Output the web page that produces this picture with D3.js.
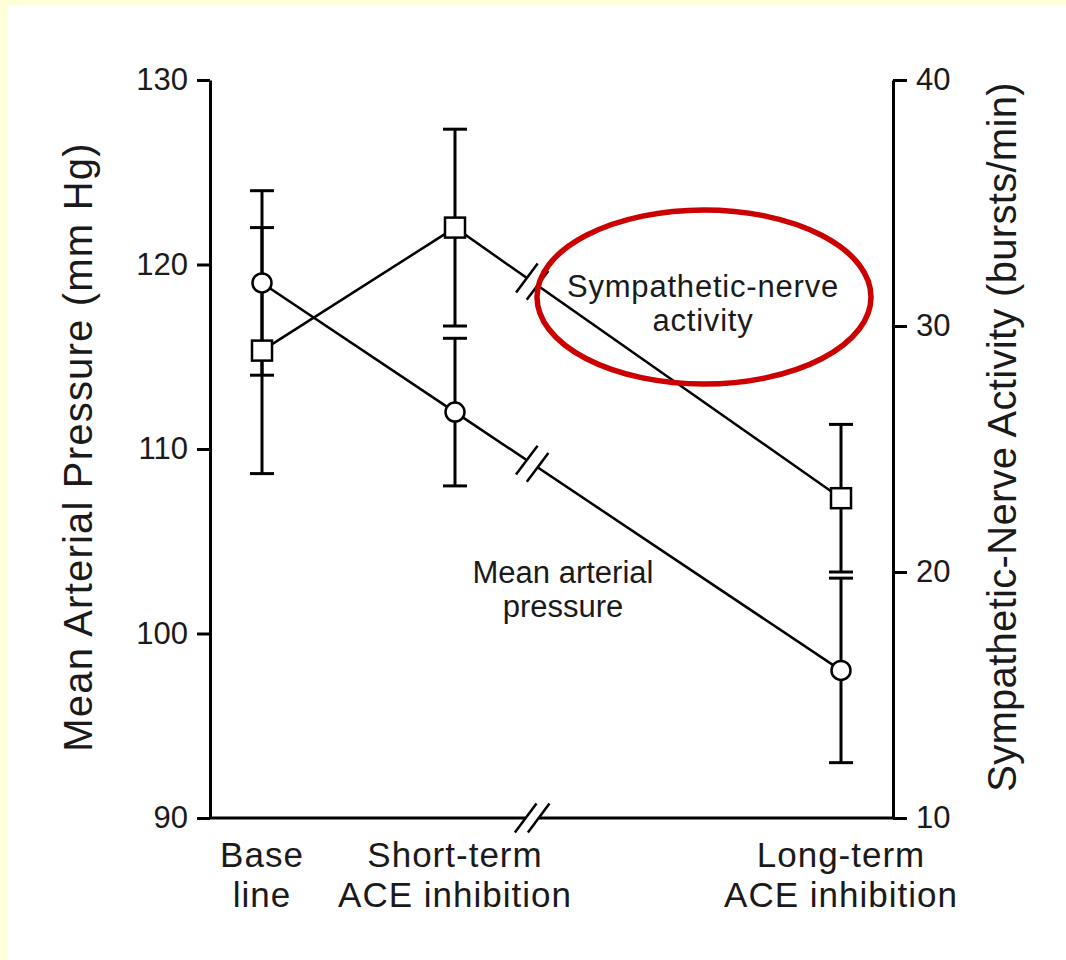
<!DOCTYPE html>
<html>
<head>
<meta charset="utf-8">
<script src="https://cdn.jsdelivr.net/npm/d3@7.9.0/dist/d3.min.js"></script>
<style>
  body { margin: 0; }
  svg text { font-family: "Liberation Sans", Arial, sans-serif; fill: #1a1a1a; }
</style>
</head>
<body>
<svg id="chart" width="1066" height="960"></svg>
<script>
// Data
const categories = ["base", "short", "long"];
const categoryLabels = [["Base", "line"], ["Short-term", "ACE inhibition"], ["Long-term", "ACE inhibition"]];
const mapMean = [119, 112, 98];   // mean arterial pressure, mm Hg
const mapErr = [5, 4, 5];
const snaMean = [29, 34, 23];     // sympathetic-nerve activity, bursts/min
const snaErr = [5, 4, 3];
const leftTicks = [90, 100, 110, 120, 130];
const rightTicks = [10, 20, 30, 40];
const leftTitle = "Mean Arterial Pressure (mm Hg)";
const rightTitle = "Sympathetic-Nerve Activity (bursts/min)";
const mapNote = ["Mean arterial", "pressure"];
const snaNote = ["Sympathetic-nerve", "activity"];

const svg = d3.select("#chart");

// background: yellow frame at left/top, white page
svg.append("rect").attr("width", 1066).attr("height", 960).attr("fill", "#ffffd9");
svg.append("rect").attr("x", 8).attr("y", 6).attr("width", 1058).attr("height", 954).attr("fill", "#fff");

// Scales (x has a hidden slot where the time axis is broken)
const x = d3.scalePoint().domain(["base", "short", "gap", "long"]).range([262, 841]);
const yL = d3.scaleLinear().domain([90, 130]).range([818, 80]);
const yR = d3.scaleLinear().domain([10, 40]).range([818, 80]);
const xLeft = 210, xRight = 893;
const breakX = x("short") + 0.4 * x.step();

// Axes
const leftAxis = svg.append("g")
  .attr("transform", `translate(${xLeft},0)`)
  .call(d3.axisLeft(yL).tickValues(leftTicks).tickSize(13).tickSizeOuter(0).tickPadding(9));
const rightAxis = svg.append("g")
  .attr("transform", `translate(${xRight},0)`)
  .call(d3.axisRight(yR).tickValues(rightTicks).tickSize(14).tickSizeOuter(0).tickPadding(9));
[leftAxis, rightAxis].forEach(g => {
  g.select(".domain").attr("stroke", "#000").attr("stroke-width", 3);
  g.selectAll(".tick line").attr("stroke", "#000").attr("stroke-width", 3);
  g.selectAll(".tick text").style("font-size", "31px").attr("fill", "#1a1a1a");
});

// bottom line
svg.append("line")
  .attr("x1", xLeft).attr("x2", xRight).attr("y1", yL(90)).attr("y2", yL(90))
  .attr("stroke", "#000").attr("stroke-width", 3);

// break marks "//"
function breakMark(cx, cy, dx, dy) {
  const len = Math.hypot(dx, dy), ux = dx / len, uy = dy / len;
  const sx = 0.6, sy = -0.8, half = 18, off = 6.5;
  svg.append("line")
    .attr("x1", cx - ux * off).attr("y1", cy - uy * off)
    .attr("x2", cx + ux * off).attr("y2", cy + uy * off)
    .attr("stroke", "#fff").attr("stroke-width", 6);
  [-off, off].forEach(o => {
    const px = cx + ux * o, py = cy + uy * o;
    svg.append("line")
      .attr("x1", px - sx * half).attr("y1", py - sy * half)
      .attr("x2", px + sx * half).attr("y2", py + sy * half)
      .attr("stroke", "#000").attr("stroke-width", 2.5);
  });
}

// Error bars
function errorBars(mean, err, y) {
  categories.forEach((c, i) => {
    const g = svg.append("g").attr("stroke", "#000").attr("stroke-width", 3);
    g.append("line").attr("x1", x(c)).attr("x2", x(c))
      .attr("y1", y(mean[i] + err[i])).attr("y2", y(mean[i] - err[i]));
    [mean[i] + err[i], mean[i] - err[i]].forEach(v => {
      g.append("line").attr("x1", x(c) - 12).attr("x2", x(c) + 12)
        .attr("y1", y(v)).attr("y2", y(v));
    });
  });
}
errorBars(mapMean, mapErr, yL);
errorBars(snaMean, snaErr, yR);

// Lines
function series(mean, y) {
  const pts = categories.map((c, i) => [x(c), y(mean[i])]);
  svg.append("path")
    .attr("d", d3.line()(pts))
    .attr("fill", "none").attr("stroke", "#000").attr("stroke-width", 2.5);
  // break on the segment short -> long
  const [a, b] = [pts[1], pts[2]];
  const t = (breakX - a[0]) / (b[0] - a[0]);
  breakMark(breakX, a[1] + t * (b[1] - a[1]), b[0] - a[0], b[1] - a[1]);
  return pts;
}
const mapPts = series(mapMean, yL);
const snaPts = series(snaMean, yR);
breakMark(breakX, yL(90), 1, 0);

// Markers
svg.selectAll(".circ").data(mapPts).join("circle")
  .attr("cx", d => d[0]).attr("cy", d => d[1]).attr("r", 9.5)
  .attr("fill", "#fff").attr("stroke", "#000").attr("stroke-width", 2.5);
svg.selectAll(".sq").data(snaPts).join("rect")
  .attr("x", d => d[0] - 10).attr("y", d => d[1] - 10)
  .attr("width", 20).attr("height", 20)
  .attr("fill", "#fff").attr("stroke", "#000").attr("stroke-width", 2.5);

// Category labels
categories.forEach((c, i) => {
  categoryLabels[i].forEach((s, k) => {
    svg.append("text").attr("x", x(c)).attr("y", 867 + k * 40)
      .attr("text-anchor", "middle").style("font-size", "35px")
      .style("letter-spacing", "1px").text(s);
  });
});

// Axis titles
svg.append("text")
  .attr("transform", `translate(92,447) rotate(-90)`)
  .attr("text-anchor", "middle").style("font-size", "40px")
  .style("letter-spacing", "1.2px").text(leftTitle);
svg.append("text")
  .attr("transform", `translate(1016,437) rotate(-90)`)
  .attr("text-anchor", "middle").style("font-size", "40px")
  .style("letter-spacing", "0.3px").text(rightTitle);

// Series annotations
mapNote.forEach((s, k) => {
  svg.append("text").attr("x", 563).attr("y", 583 + k * 34)
    .attr("text-anchor", "middle").style("font-size", "31px").text(s);
});
snaNote.forEach((s, k) => {
  svg.append("text").attr("x", 703).attr("y", 297 + k * 34)
    .attr("text-anchor", "middle").style("font-size", "31px")
    .style("letter-spacing", "0.8px").text(s);
});

// red highlight ellipse
svg.append("ellipse")
  .attr("cx", 704).attr("cy", 297).attr("rx", 167).attr("ry", 87)
  .attr("fill", "none").attr("stroke", "#cc0000").attr("stroke-width", 5.5);
</script>
</body>
</html>
